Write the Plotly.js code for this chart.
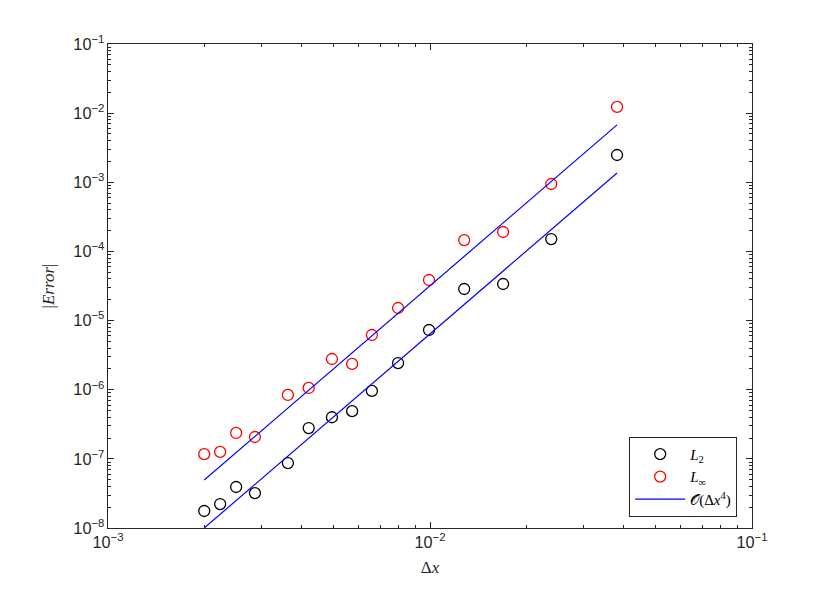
<!DOCTYPE html>
<html>
<head>
<meta charset="utf-8">
<script src="https://cdn.plot.ly/plotly-3.0.1.min.js"></script>
<style>
  body { margin: 0; background: #fff; }
  #plot { width: 830px; height: 592px; }
</style>
</head>
<body>
<div id="plot"></div>
<script>
// grid spacing
const dx = [0.00199, 0.00223, 0.0025, 0.00286, 0.00362, 0.0042, 0.00496, 0.00573,
            0.0066, 0.00796, 0.00993, 0.01277, 0.01687, 0.0238, 0.0381];
// errors
const errL2 = [1.76e-8, 2.22e-8, 3.92e-8, 3.2e-8, 8.7e-8, 2.79e-7, 4.0e-7, 4.9e-7,
               9.6e-7, 2.43e-6, 7.3e-6, 2.86e-5, 3.38e-5, 1.51e-4, 2.48e-3];
const errLinf = [1.17e-7, 1.26e-7, 2.37e-7, 2.07e-7, 8.4e-7, 1.06e-6, 2.78e-6, 2.36e-6,
                 6.18e-6, 1.52e-5, 3.86e-5, 1.46e-4, 1.91e-4, 9.44e-4, 1.23e-2];
// fourth order reference lines (end points)
const refX = [0.00199, 0.0381];
const refUpper = [4.94e-8, 6.76e-3];
const refLower = [1.0e-8, 1.36e-3];

const axisCol = '#262626';
const tickFont = { family: 'Liberation Sans, Arial, sans-serif', size: 13, color: axisCol };
const mathFont = { family: 'Liberation Serif, Times New Roman, serif', size: 17, color: axisCol };

const traces = [
    {
        x: dx, y: errL2, mode: 'markers', type: 'scatter', name: '<i>L</i><sub>2</sub>',
        marker: { symbol: 'circle-open', size: 11, color: '#000', line: { width: 1.3 } }
    },
    {
        x: dx, y: errLinf, mode: 'markers', type: 'scatter', name: '<i>L</i><sub>∞</sub>',
        marker: { symbol: 'circle-open', size: 11, color: '#ff0000', line: { width: 1.3 } }
    },
    {
        x: refX, y: refUpper, mode: 'lines', type: 'scatter', name: '𝒪(Δ<i>x</i><sup>4</sup>)',
        line: { color: '#0000ff', width: 1.2 }
    },
    {
        x: refX, y: refLower, mode: 'lines', type: 'scatter', showlegend: false,
        line: { color: '#0000ff', width: 1.2 }
    }
];

const baseAxis = {
    type: 'log',
    exponentformat: 'power',
    showgrid: false,
    zeroline: false,
    showline: true,
    mirror: 'ticks',
    linecolor: axisCol,
    linewidth: 1,
    ticks: 'inside',
    ticklen: 6,
    tickcolor: axisCol,
    tickfont: tickFont,
    dtick: 1,
    minor: { ticks: 'inside', ticklen: 3, tickcolor: axisCol, showgrid: false },
    automargin: false
};

const layout = {
    width: 830,
    height: 592,
    margin: { l: 108, r: 78, t: 44, b: 64 },
    paper_bgcolor: '#fff',
    plot_bgcolor: '#fff',
    showlegend: true,
    xaxis: Object.assign({}, baseAxis, {
        range: [-3, -1],
        title: { text: 'Δ<i>x</i>', font: mathFont, standoff: 11 }
    }),
    yaxis: Object.assign({}, baseAxis, {
        range: [-8, -1],
        title: { text: '|<i>Error</i>|', font: mathFont, standoff: 14 }
    }),
    legend: {
        x: 0.977, y: 0.023, xanchor: 'right', yanchor: 'bottom',
        bgcolor: '#fff', bordercolor: axisCol, borderwidth: 1,
        font: { family: 'Liberation Serif, Times New Roman, serif', size: 15, color: '#000' },
        itemwidth: 50,
        tracegroupgap: 0
    }
};

Plotly.newPlot('plot', traces, layout, { displayModeBar: false, staticPlot: true });
</script>
</body>
</html>
